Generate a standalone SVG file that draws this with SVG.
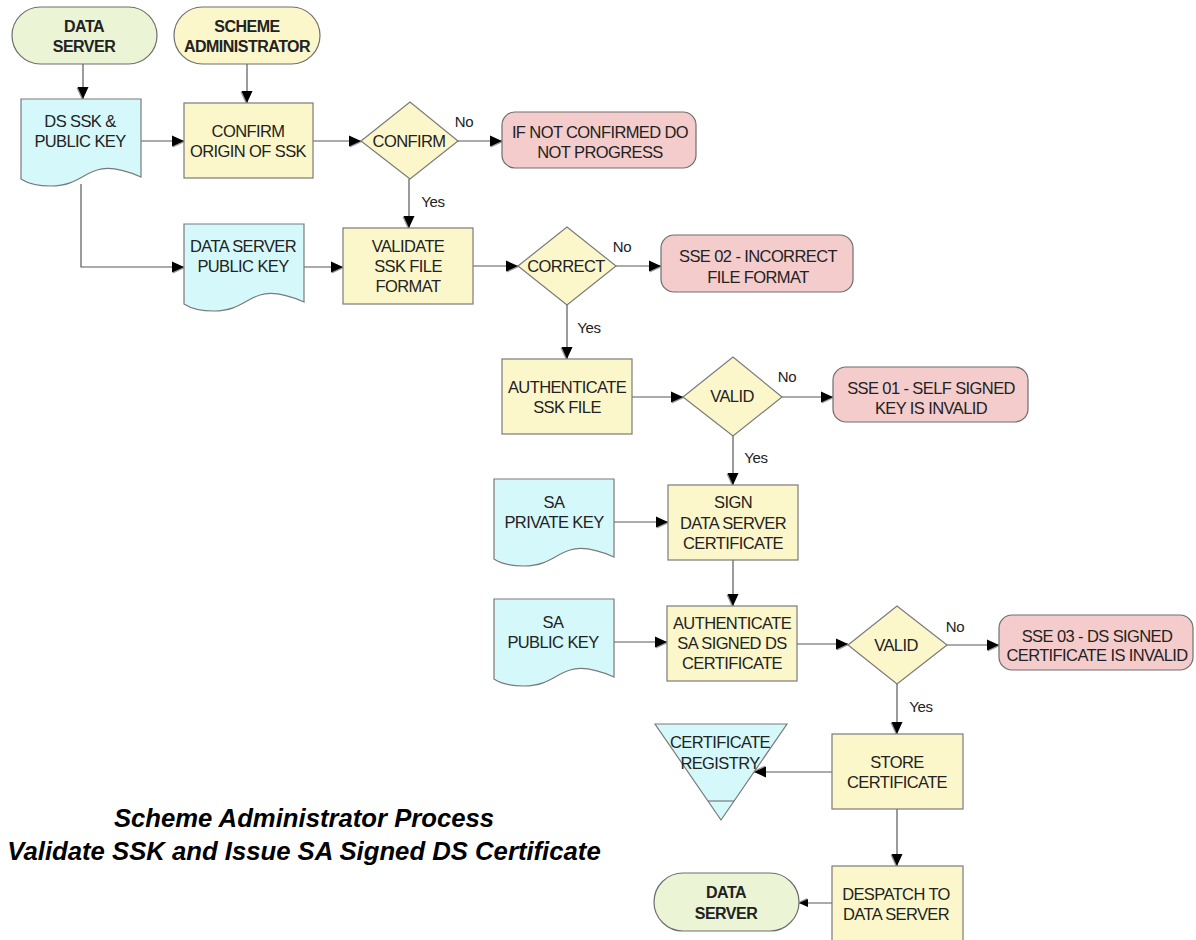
<svg xmlns="http://www.w3.org/2000/svg" xmlns:xlink="http://www.w3.org/1999/xlink" width="1196" height="940" viewBox="0 0 1196 940">
<style>
  .box{fill:#fcf7cb;stroke:#7a7a7a;stroke-width:1.2}
  .doc{fill:#d5f8fb;stroke:#7a7a7a;stroke-width:1.2}
  .err{fill:#f4cccc;stroke:#6e6e6e;stroke-width:1.2}
  .termg{fill:#ebf5d5;stroke:#6e6e6e;stroke-width:1.2}
  .termy{fill:#fcf7cb;stroke:#6e6e6e;stroke-width:1.2}
  .t{font-family:"Liberation Sans",Arial,sans-serif;font-size:16.5px;letter-spacing:-0.6px;fill:#222;text-anchor:middle;dominant-baseline:central}
  .tb{font-family:"Liberation Sans",Arial,sans-serif;font-size:16px;font-weight:bold;letter-spacing:-0.5px;fill:#222;text-anchor:middle;dominant-baseline:central}
  .lbl{font-family:"Liberation Sans",Arial,sans-serif;font-size:15px;letter-spacing:-0.4px;fill:#222;text-anchor:middle}
  .title{font-family:"Liberation Sans",Arial,sans-serif;font-size:25.7px;font-weight:bold;font-style:italic;fill:#000;text-anchor:middle}
  .c{fill:none;stroke:#595959;stroke-width:1.2}
</style>
<defs>
  <marker id="ah" viewBox="0 0 14 14" refX="12" refY="6" markerWidth="14" markerHeight="14" markerUnits="userSpaceOnUse" orient="auto" overflow="visible">
    <path d="M1,1.5 L13,7 L1,12.5 Z" fill="#9a9a9a"/>
    <path d="M0,0.5 L12,6 L0,11.5 Z" fill="#000"/>
  </marker>
  <marker id="ahs" viewBox="0 0 10 10" refX="9" refY="5" markerWidth="10" markerHeight="10" markerUnits="userSpaceOnUse" orient="auto" overflow="visible">
    <path d="M1,1.5 L10,5.8 L1,10 Z" fill="#9a9a9a"/>
    <path d="M0,1 L9,5 L0,9 Z" fill="#000"/>
  </marker>
  <path id="docshape" d="M0,0 H120 V78 C104,71 88,67 76,71 C62,75 54,87 30,87 C15,87 6,84 0,80 Z"/>
</defs>

<g id="connectors">
  <path class="c" d="M83,64 V99" marker-end="url(#ah)"/>
  <path class="c" d="M247,64 V103" marker-end="url(#ah)"/>
  <path class="c" d="M141,141 H184" marker-end="url(#ah)"/>
  <path class="c" d="M313,141 H361" marker-end="url(#ah)"/>
  <path class="c" d="M458,141 H502" marker-end="url(#ah)"/>
  <path class="c" d="M409,179 V228" marker-end="url(#ah)"/>
  <path class="c" d="M81,184 V267 H184" marker-end="url(#ah)"/>
  <path class="c" d="M304,267 H343" marker-end="url(#ah)"/>
  <path class="c" d="M473,266 H518" marker-end="url(#ah)"/>
  <path class="c" d="M616,266 H661" marker-end="url(#ah)"/>
  <path class="c" d="M567,305 V359" marker-end="url(#ah)"/>
  <path class="c" d="M632,397 H683" marker-end="url(#ah)"/>
  <path class="c" d="M782,397 H833" marker-end="url(#ah)"/>
  <path class="c" d="M733,436 V485" marker-end="url(#ah)"/>
  <path class="c" d="M614,522 H668" marker-end="url(#ah)"/>
  <path class="c" d="M733,560 V606" marker-end="url(#ah)"/>
  <path class="c" d="M614,642 H667" marker-end="url(#ah)"/>
  <path class="c" d="M797,644 H848" marker-end="url(#ah)"/>
  <path class="c" d="M947,645 H999" marker-end="url(#ah)"/>
  <path class="c" d="M897,684 V734" marker-end="url(#ah)"/>
  <path class="c" d="M832,772 H754" marker-end="url(#ah)"/>
  <path class="c" d="M897,809 V866" marker-end="url(#ah)"/>
  <path class="c" d="M832,903 H799" marker-end="url(#ahs)"/>
  <text class="lbl" x="464" y="127">No</text>
  <text class="lbl" x="433" y="207">Yes</text>
  <text class="lbl" x="622" y="252">No</text>
  <text class="lbl" x="589" y="333">Yes</text>
  <text class="lbl" x="787" y="382">No</text>
  <text class="lbl" x="756" y="463">Yes</text>
  <text class="lbl" x="955" y="632">No</text>
  <text class="lbl" x="921" y="712">Yes</text>
</g>

<g id="ds_start">
  <rect class="termg" x="12" y="7" width="145" height="57" rx="28.5"/>
  <text class="tb" x="84" y="26">DATA</text>
  <text class="tb" x="84" y="46">SERVER</text>
</g>
<g id="sa_start">
  <rect class="termy" x="174" y="7" width="146" height="57" rx="28.5"/>
  <text class="tb" x="247" y="26">SCHEME</text>
  <text class="tb" x="247" y="46">ADMINISTRATOR</text>
</g>
<g id="ds_ssk">
  <use xlink:href="#docshape" href="#docshape" class="doc" transform="translate(21,99)"/>
  <text class="t" x="80" y="121">DS SSK &amp;</text>
  <text class="t" x="80" y="141">PUBLIC KEY</text>
</g>
<g id="confirm_origin">
  <rect class="box" x="184" y="103" width="129" height="75"/>
  <text class="t" x="248" y="131">CONFIRM</text>
  <text class="t" x="248" y="151">ORIGIN OF SSK</text>
</g>
<g id="confirm_dec">
  <path class="box" d="M361,141 L410,102 L458,141 L410,179 Z"/>
  <text class="t" x="409" y="141">CONFIRM</text>
</g>
<g id="not_confirmed">
  <rect class="err" x="502" y="112" width="194" height="56" rx="13"/>
  <text class="t" x="600" y="132">IF NOT CONFIRMED DO</text>
  <text class="t" x="600" y="152">NOT PROGRESS</text>
</g>
<g id="ds_public_key">
  <use xlink:href="#docshape" href="#docshape" class="doc" transform="translate(184,224)"/>
  <text class="t" x="243" y="246">DATA SERVER</text>
  <text class="t" x="243" y="266">PUBLIC KEY</text>
</g>
<g id="validate_format">
  <rect class="box" x="343" y="228" width="130" height="76"/>
  <text class="t" x="408" y="246">VALIDATE</text>
  <text class="t" x="408" y="266">SSK FILE</text>
  <text class="t" x="408" y="286">FORMAT</text>
</g>
<g id="correct_dec">
  <path class="box" d="M518,266 L567,227 L616,266 L567,305 Z"/>
  <text class="t" x="566" y="266">CORRECT</text>
</g>
<g id="sse02">
  <rect class="err" x="661" y="235" width="192" height="57" rx="13"/>
  <text class="t" x="758" y="256">SSE 02 - INCORRECT</text>
  <text class="t" x="758" y="277">FILE FORMAT</text>
</g>
<g id="authenticate_ssk">
  <rect class="box" x="502" y="359" width="130" height="75"/>
  <text class="t" x="567" y="387">AUTHENTICATE</text>
  <text class="t" x="567" y="407">SSK FILE</text>
</g>
<g id="valid_dec1">
  <path class="box" d="M683,397 L733,357 L782,397 L733,436 Z"/>
  <text class="t" x="732" y="396">VALID</text>
</g>
<g id="sse01">
  <rect class="err" x="833" y="367" width="195" height="55" rx="13"/>
  <text class="t" x="931" y="388">SSE 01 - SELF SIGNED</text>
  <text class="t" x="931" y="408">KEY IS INVALID</text>
</g>
<g id="sa_private_key">
  <use xlink:href="#docshape" href="#docshape" class="doc" transform="translate(494,479)"/>
  <text class="t" x="554" y="502">SA</text>
  <text class="t" x="554" y="522">PRIVATE KEY</text>
</g>
<g id="sign_cert">
  <rect class="box" x="668" y="485" width="130" height="75"/>
  <text class="t" x="733" y="502">SIGN</text>
  <text class="t" x="733" y="523">DATA SERVER</text>
  <text class="t" x="733" y="543">CERTIFICATE</text>
</g>
<g id="sa_public_key">
  <use xlink:href="#docshape" href="#docshape" class="doc" transform="translate(494,599)"/>
  <text class="t" x="553" y="622">SA</text>
  <text class="t" x="553" y="642">PUBLIC KEY</text>
</g>
<g id="authenticate_sa">
  <rect class="box" x="667" y="606" width="130" height="75"/>
  <text class="t" x="732" y="623">AUTHENTICATE</text>
  <text class="t" x="732" y="643">SA SIGNED DS</text>
  <text class="t" x="732" y="663">CERTIFICATE</text>
</g>
<g id="valid_dec2">
  <path class="box" d="M848,645 L897,606 L947,645 L897,684 Z"/>
  <text class="t" x="896" y="645">VALID</text>
</g>
<g id="sse03">
  <rect class="err" x="999" y="615" width="194" height="55" rx="13"/>
  <text class="t" x="1097" y="636">SSE 03 - DS SIGNED</text>
  <text class="t" x="1097" y="655">CERTIFICATE IS INVALID</text>
</g>
<g id="cert_registry">
  <path class="doc" d="M655,724 L787,724 L721,820 Z"/>
  <path class="doc" d="M708,801 H734" fill="none"/>
  <text class="t" x="720" y="742">CERTIFICATE</text>
  <text class="t" x="720" y="763">REGISTRY</text>
</g>
<g id="store_cert">
  <rect class="box" x="832" y="734" width="131" height="75"/>
  <text class="t" x="897" y="762">STORE</text>
  <text class="t" x="897" y="782">CERTIFICATE</text>
</g>
<g id="despatch">
  <rect class="box" x="832" y="866" width="131" height="80"/>
  <text class="t" x="896" y="894">DESPATCH TO</text>
  <text class="t" x="896" y="914">DATA SERVER</text>
</g>
<g id="ds_end">
  <rect class="termg" x="654" y="873" width="145" height="58" rx="29"/>
  <text class="tb" x="726" y="892">DATA</text>
  <text class="tb" x="726" y="913">SERVER</text>
</g>
<g id="title">
  <text class="title" x="304" y="827">Scheme Administrator Process</text>
  <text class="title" x="304" y="860">Validate SSK and Issue SA Signed DS Certificate</text>
</g>
</svg>
